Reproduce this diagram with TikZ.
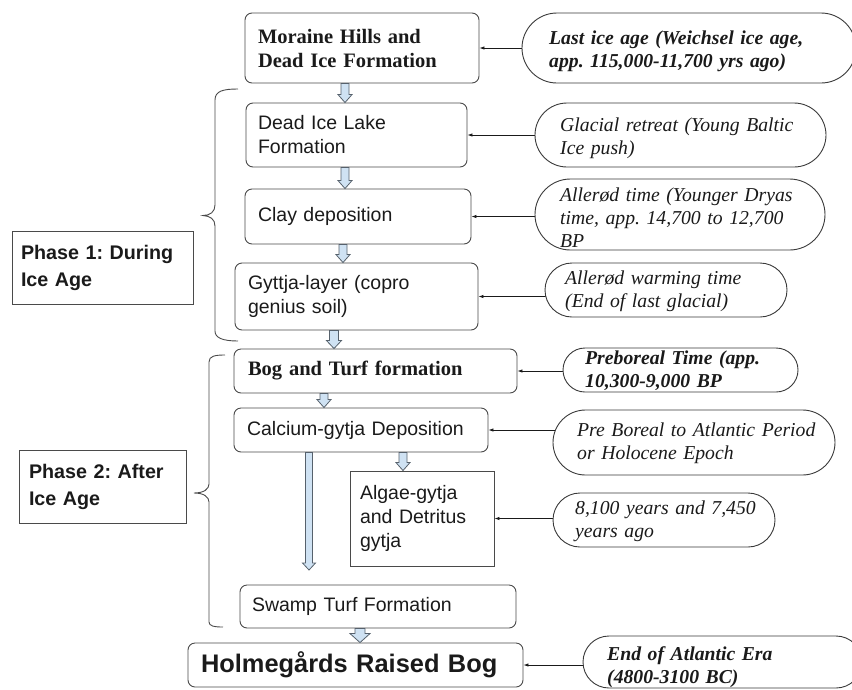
\documentclass[tikz,border=0pt]{standalone}
\usepackage{fontspec}
\setmainfont{Liberation Serif}
\setsansfont{Liberation Sans}
\usetikzlibrary{arrows.meta,shapes.misc,calc}
\pgfdeclarelayer{background}
\pgfsetlayers{background,main}
\frenchspacing

\definecolor{boxline}{HTML}{4A4A4A}
\definecolor{ovalline}{HTML}{3A3A3A}
\definecolor{ink}{HTML}{1A1A1A}
\definecolor{arrowfill}{HTML}{CFE2F3}
\definecolor{arrowline}{HTML}{56616C}

\newcommand{\boxfont}{\sffamily\fontsize{19.5}{24}\selectfont}
\newcommand{\headfont}{\rmfamily\bfseries\fontsize{20.5}{24}\selectfont}
\newcommand{\phasefont}{\sffamily\bfseries\fontsize{19.7}{27}\selectfont}
\newcommand{\bigfont}{\sffamily\bfseries\fontsize{25.4}{30}\selectfont}
\newcommand{\notefont}{\rmfamily\itshape\fontsize{19.7}{23}\selectfont}
\newcommand{\notebfont}{\rmfamily\bfseries\itshape\fontsize{19.7}{23}\selectfont}

% hollow block arrow: start anchor, end anchor, x, half shaft, half head, head length
\newcommand{\blockarrow}[6]{%
  \path[blockarrow] let \p1=(#1), \p2=(#2) in
    (#3pt-#4pt,\y1) -- (#3pt+#4pt,\y1) -- (#3pt+#4pt,\y2+#6pt)
    -- (#3pt+#5pt,\y2+#6pt) -- (#3pt,\y2) -- (#3pt-#5pt,\y2+#6pt)
    -- (#3pt-#4pt,\y2+#6pt) -- cycle;}

\begin{document}
\begin{tikzpicture}[x=1pt,y=-1pt,
  box/.style={draw=boxline, line width=0.9pt, rounded corners=7pt,
    align=left, text=ink, inner ysep=0pt, font=\boxfont},
  plainbox/.style={box, sharp corners},
  phase/.style={draw=boxline, line width=0.9pt, align=left, text=ink,
    inner ysep=0pt, font=\phasefont},
  oval/.style={draw=ovalline, fill=white, line width=0.9pt, rounded rectangle,
    rounded rectangle arc length=180, inner sep=0pt},
  note/.style={anchor=west, align=left, text=ink, inner sep=0pt,
    text width=300pt, font=\notefont},
  notebf/.style={note, font=\notebfont},
  conn/.style={draw=ink, line width=0.8pt, -{Latex[length=5pt,width=3.5pt]}},
  blockarrow/.style={draw=arrowline, fill=arrowfill, line width=0.8pt, line join=miter},
  brace/.style={draw=boxline, line width=0.9pt}]

\useasboundingbox (0,0) rectangle (852,689);
\clip (0,0) rectangle (852,689);

% process boxes
\node[box, font=\headfont, text width=208pt, inner xsep=13pt, minimum height=70pt]
  (moraine) at (362,48) {Moraine Hills and\\Dead Ice Formation};
\node[box, text width=197pt, inner xsep=12pt, minimum height=64pt]
  (deadlake) at (356.5,135) {Dead Ice Lake\\Formation};
\node[box, text width=200pt, inner xsep=13pt, minimum height=55pt]
  (clay) at (358,216.5) {Clay deposition};
\node[box, text width=217pt, inner xsep=13pt, minimum height=67pt]
  (gyttja) at (356.5,296.5) {Gyttja-layer (copro\\genius soil)};
\node[box, font=\headfont, text width=255pt, inner xsep=14pt, minimum height=44pt]
  (bog) at (375.5,371) {Bog and Turf formation};
\node[box, text width=228pt, inner xsep=13pt, minimum height=44pt]
  (calcium) at (361,430) {Calcium-gytja Deposition};
\node[plainbox, text width=124pt, inner xsep=10pt, minimum height=95pt]
  (algae) at (422,518.5) {Algae-gytja\\and Detritus\\gytja};
\node[box, text width=252pt, inner xsep=12pt, minimum height=43pt]
  (swamp) at (378,606.5) {Swamp Turf Formation};
\node[box, font=\bigfont, text width=309pt, inner xsep=13pt, minimum height=44pt]
  (holmeg) at (355.5,665) {Holmegårds Raised Bog};

% phase labels
\node[phase, text width=163pt, inner xsep=9pt, minimum height=73pt]
  (phase1) at (102.5,267.5) {Phase 1: During\\Ice Age};
\node[phase, text width=147pt, inner xsep=10pt, minimum height=73pt]
  (phase2) at (102.5,486.5) {Phase 2: After\\Ice Age};

% time notes
\node[oval, minimum width=334pt, minimum height=70pt] (lastice) at (689,48) {};
\node[notebf] (lastice-t) at (549,51)
  {Last ice age (Weichsel ice age,\\app. 115,000-11,700 yrs ago)};
\node[oval, minimum width=291pt, minimum height=64pt] (retreat) at (680.5,135) {};
\node[note] (retreat-t) at (560,138.5) {Glacial retreat (Young Baltic\\Ice push)};
\node[oval, minimum width=290pt, minimum height=71pt] (allerod) at (680,214.5) {};
\node[note] (allerod-t) at (560,218)
  {Allerød time (Younger Dryas\\time, app. 14,700 to 12,700\\BP};
\node[oval, minimum width=242pt, minimum height=54pt] (warming) at (666,290) {};
\node[note] (warming-t) at (565,291) {Allerød warming time\\(End of last glacial)};
\node[oval, minimum width=235pt, minimum height=44pt] (preboreal) at (680.5,370) {};
\node[notebf] (preboreal-t) at (585,371) {Preboreal Time (app.\\10,300-9,000 BP};
\node[oval, minimum width=282pt, minimum height=65pt] (holocene) at (694,442.5) {};
\node[note] (holocene-t) at (577,443) {Pre Boreal to Atlantic Period\\or Holocene Epoch};
\node[oval, minimum width=222pt, minimum height=54pt] (years) at (664,520) {};
\node[note] (years-t) at (575,521) {8,100 years and 7,450\\years ago};
\node[oval, minimum width=279pt, minimum height=52pt] (atlantic) at (722.5,662) {};
\node[notebf] (atlantic-t) at (607,667) {End of Atlantic Era\\(4800-3100 BC)};

% thin connectors from the notes to the boxes
\begin{pgfonlayer}{background}
  \draw[conn] (moraine.east -| lastice.west) ++(6,0) -- (moraine.east);
  \draw[conn] (deadlake.east -| retreat.west) ++(6,0) -- (deadlake.east);
  \draw[conn] (clay.east -| allerod.west) ++(6,0) -- (clay.east);
  \draw[conn] (gyttja.east -| warming.west) ++(6,0) -- (gyttja.east);
  \draw[conn] (bog.east -| preboreal.west) ++(6,0) -- (bog.east);
  \draw[conn] (calcium.east -| holocene.west) ++(6,0) -- (calcium.east);
  \draw[conn] (algae.east -| years.west) ++(6,0) -- (algae.east);
  \draw[conn] (holmeg.east -| atlantic.west) ++(6,0) -- (holmeg.east);
\end{pgfonlayer}

% hollow flow arrows
\coordinate (longend) at (309,570);
\blockarrow{moraine.south}{deadlake.north}{345}{4}{7}{8}
\blockarrow{deadlake.south}{clay.north}{345}{4}{7}{8}
\blockarrow{clay.south}{gyttja.north}{343}{4}{7}{8}
\blockarrow{gyttja.south}{bog.north}{334}{4.5}{7.5}{8}
\blockarrow{bog.south}{calcium.north}{324}{4}{7}{8}
\blockarrow{calcium.south}{algae.north}{403}{4}{7}{8}
\blockarrow{calcium.south}{longend}{309}{3.5}{6.5}{7}
\blockarrow{swamp.south}{holmeg.north}{360}{5}{10}{9}

% curly braces grouping the phases
\draw[brace] (238,89) .. controls (223,89) and (215,91) .. (215,100)
  -- (215,205) .. controls (215,212) and (210,215.5) .. (203,215.5)
  .. controls (210,216) and (215,219) .. (215,226)
  -- (215,331) .. controls (215,338) and (223,341) .. (238,341);
\draw[brace] (225,355) .. controls (215,355) and (209,356) .. (209,362)
  -- (209,484) .. controls (209,489) and (204,493) .. (194,493)
  .. controls (204,493) and (209,497) .. (209,502)
  -- (209,622) .. controls (209,626) and (214,627) .. (223,627);

\end{tikzpicture}
\end{document}
